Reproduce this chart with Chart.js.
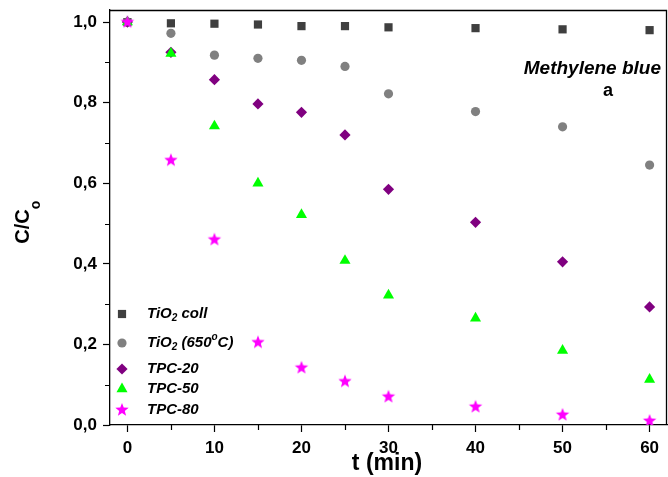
<!DOCTYPE html>
<html>
<head>
<meta charset="utf-8">
<script src="https://cdn.jsdelivr.net/npm/chart.js@4.4.1/dist/chart.umd.min.js"></script>
<style>
  html, body { margin: 0; padding: 0; background: #fff; }
  #wrap { width: 668px; height: 477px; }
</style>
</head>
<body>
<div id="wrap"><canvas id="chart" width="668" height="477"></canvas></div>
<script>
// time points (min)
const times = [0, 5, 10, 15, 20, 25, 30, 40, 50, 60];

// C/Co values
const tio2Coll = [1.0, 0.997, 0.996, 0.994, 0.99, 0.99, 0.987, 0.985, 0.982, 0.98];
const tio2_650 = [1.0, 0.972, 0.918, 0.91, 0.905, 0.89, 0.822, 0.778, 0.74, 0.645];
const tpc20 = [1.0, 0.925, 0.857, 0.797, 0.776, 0.72, 0.585, 0.503, 0.405, 0.293];
const tpc50 = [1.0, 0.922, 0.742, 0.6, 0.522, 0.408, 0.322, 0.265, 0.185, 0.113];
const tpc80 = [1.0, 0.657, 0.46, 0.205, 0.142, 0.108, 0.07, 0.045, 0.025, 0.01];

const xTicks = [0, 10, 20, 30, 40, 50, 60];
const yTicks = [0, 0.2, 0.4, 0.6, 0.8, 1.0];

const FONT = '"Liberation Sans", Arial, sans-serif';

// filled star marker (Chart.js 'star' is only an outline)
function makeStar(color, r) {
  const c = document.createElement('canvas');
  const s = Math.ceil(r * 2 + 2);
  c.width = s; c.height = s;
  const g = c.getContext('2d');
  g.beginPath();
  for (let i = 0; i < 10; i++) {
    const rad = i % 2 === 0 ? r : r * 0.42;
    const a = -Math.PI / 2 + i * Math.PI / 5;
    const px = s / 2 + rad * Math.cos(a);
    const py = s / 2 + rad * Math.sin(a);
    if (i === 0) g.moveTo(px, py); else g.lineTo(px, py);
  }
  g.closePath();
  g.fillStyle = color;
  g.fill();
  return c;
}
const starImg = makeStar('#ff00ff', 7);

const series = [
  { label: 'TiO2 coll', data: tio2Coll, color: '#3f3f3f', style: 'rect', r: 5.8, order: 5 },
  { label: 'TiO2 (650C)', data: tio2_650, color: '#808080', style: 'circle', r: 4.6, order: 4 },
  { label: 'TPC-20', data: tpc20, color: '#800080', style: 'rectRot', r: 5.6, order: 3 },
  { label: 'TPC-50', data: tpc50, color: '#00ff00', style: 'triangle', r: 6.4, order: 2 },
  { label: 'TPC-80', data: tpc80, color: '#ff00ff', style: starImg, r: 7, order: 1 }
];

// text pieces with sub/superscripts
function drawRich(ctx, parts, x, y, size, style, subShift) {
  let cx = x;
  parts.forEach(p => {
    const t = p[0], mode = p[1] || '';
    const fs = mode ? Math.round(size * 0.68) : size;
    ctx.font = style + ' ' + fs + 'px ' + FONT;
    let dy = 0;
    if (mode === 'sub') dy = size * (subShift || 0.3);
    if (mode === 'sup') dy = -size * 0.4;
    ctx.fillText(t, cx, y + dy);
    cx += ctx.measureText(t).width;
  });
  return cx - x;
}

const legendText = [
  [['TiO'], ['2', 'sub'], [' coll']],
  [['TiO'], ['2', 'sub'], [' (650'], ['o', 'sup'], ['C)']],
  [['TPC-20']],
  [['TPC-50']],
  [['TPC-80']]
];
const legendRows = [314, 343, 369, 389, 410];

const extras = {
  id: 'extras',
  afterDraw(chart) {
    const ctx = chart.ctx;
    const a = chart.chartArea;
    const xs = chart.scales.x, ys = chart.scales.y;
    ctx.save();
    // frame top and right
    ctx.strokeStyle = '#000';
    ctx.lineWidth = 1.3;
    ctx.beginPath();
    ctx.moveTo(a.left, a.top + 0.5);
    ctx.lineTo(a.right - 0.5, a.top + 0.5);
    ctx.lineTo(a.right - 0.5, a.bottom);
    ctx.stroke();
    // minor ticks
    ctx.lineWidth = 1.2;
    ctx.beginPath();
    for (let v = 5; v < 62; v += 10) {
      const px = Math.round(xs.getPixelForValue(v)) + 0.5;
      ctx.moveTo(px, a.bottom);
      ctx.lineTo(px, a.bottom + 5);
    }
    for (let v = 0.1; v < 1.03; v += 0.2) {
      const py = Math.round(ys.getPixelForValue(v)) + 0.5;
      ctx.moveTo(a.left, py);
      ctx.lineTo(a.left - 5, py);
    }
    ctx.stroke();

    ctx.fillStyle = '#000';
    ctx.textBaseline = 'middle';
    // x tick labels
    ctx.textAlign = 'center';
    ctx.font = 'bold 17px ' + FONT;
    xTicks.forEach(v => ctx.fillText(String(v), xs.getPixelForValue(v), a.bottom + 23));
    // x title
    ctx.font = 'bold 23px ' + FONT;
    ctx.fillText('t (min)', 387, 464);
    // y title
    ctx.save();
    ctx.translate(23, 222);
    ctx.rotate(-Math.PI / 2);
    ctx.textAlign = 'left';
    ctx.font = 'bold 20px ' + FONT;
    const w = ctx.measureText('C/C').width + 9;
    drawRich(ctx, [['C/C'], ['o', 'sub']], -w / 2, 0, 20, 'bold', 0.65);
    ctx.restore();

    // annotation
    ctx.textAlign = 'right';
    ctx.font = 'italic bold 19px ' + FONT;
    ctx.fillText('Methylene blue', 661, 69);
    ctx.textAlign = 'center';
    ctx.font = 'bold 18px ' + FONT;
    ctx.fillText('a', 608, 91);

    // legend
    ctx.textAlign = 'left';
    series.forEach((s, i) => {
      const y = legendRows[i];
      ctx.fillStyle = s.color;
      ctx.strokeStyle = s.color;
      Chart.helpers.drawPoint(ctx, { pointStyle: s.style, radius: s.r, rotation: 0, borderWidth: 0 }, 122, y);
      ctx.fillStyle = '#000';
      drawRich(ctx, legendText[i], 147, y, 15, 'italic bold');
    });
    ctx.restore();
  }
};

const datasets = series.map(s => ({
  label: s.label,
  data: times.map((t, i) => ({ x: t, y: s.data[i] })),
  showLine: false,
  pointStyle: s.style,
  pointRadius: s.r,
  pointHoverRadius: s.r,
  pointBackgroundColor: s.color,
  pointBorderColor: s.color,
  pointBorderWidth: 0,
  order: s.order
}));

new Chart(document.getElementById('chart').getContext('2d'), {
  type: 'scatter',
  data: { datasets: datasets },
  options: {
    responsive: false,
    animation: false,
    devicePixelRatio: 1,
    layout: { autoPadding: false, padding: { left: 0, top: 10, right: 1, bottom: 0 } },
    plugins: { legend: { display: false }, tooltip: { enabled: false } },
    scales: {
      x: {
        type: 'linear',
        min: -2,
        max: 62,
        afterFit: sc => { sc.height = 52; sc.paddingLeft = 0; sc.paddingRight = 0; },
        afterBuildTicks: sc => { sc.ticks = xTicks.map(v => ({ value: v })); },
        grid: { drawOnChartArea: false, tickLength: 7, color: '#000', tickWidth: 1.2 },
        border: { display: true, color: '#000', width: 1.3 },
        ticks: { display: false }
      },
      y: {
        type: 'linear',
        min: 0,
        max: 1.03,
        afterFit: sc => { sc.width = 110; sc.paddingTop = 0; sc.paddingBottom = 0; },
        afterBuildTicks: sc => { sc.ticks = yTicks.map(v => ({ value: v })); },
        grid: { drawOnChartArea: false, tickLength: 7, color: '#000', tickWidth: 1.2 },
        border: { display: true, color: '#000', width: 1.3 },
        ticks: {
          color: '#000',
          padding: 6,
          font: { family: FONT, size: 17, weight: 'bold' },
          callback: v => v.toFixed(1).replace('.', ',')
        }
      }
    }
  },
  plugins: [extras]
});
</script>
</body>
</html>
